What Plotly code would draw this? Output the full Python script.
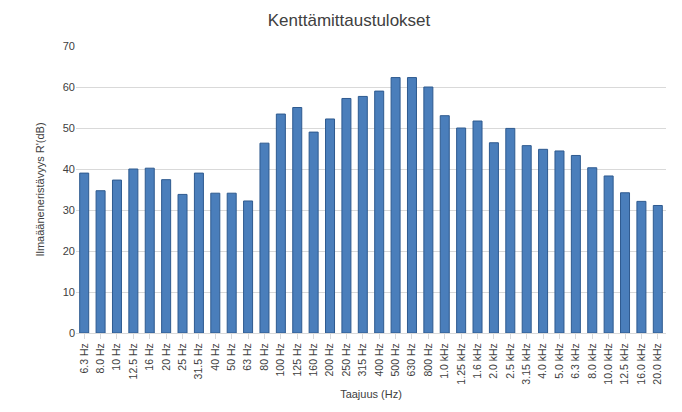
import plotly.graph_objects as go

taajuus = ['6.3 Hz', '8.0 Hz', '10 Hz', '12.5 Hz', '16 Hz', '20 Hz', '25 Hz', '31.5 Hz',
           '40 Hz', '50 Hz', '63 Hz', '80 Hz', '100 Hz', '125 Hz', '160 Hz', '200 Hz',
           '250 Hz', '315 Hz', '400 Hz', '500 Hz', '630 Hz', '800 Hz', '1.0 kHz',
           '1.25 kHz', '1.6 kHz', '2.0 kHz', '2.5 kHz', '3.15 kHz', '4.0 kHz', '5.0 kHz',
           '6.3 kHz', '8.0 kHz', '10.0 kHz', '12.5 kHz', '16.0 kHz', '20.0 kHz']
r_arvot = [39.0, 34.7, 37.3, 40.0, 40.2, 37.4, 33.8, 39.0, 34.1, 34.1, 32.2, 46.3,
           53.4, 55.0, 49.0, 52.2, 57.2, 57.7, 59.0, 62.3, 62.3, 60.0, 53.0, 50.0,
           51.7, 46.4, 49.9, 45.7, 44.8, 44.4, 43.3, 40.3, 38.3, 34.2, 32.1, 31.1]

fig = go.Figure()
fig.add_trace(go.Bar(
    x=taajuus, y=r_arvot,
    marker=dict(color='#4a7ebb', line=dict(color='#2e5a8f', width=1)),
    width=0.55,
))

fig.update_layout(
    width=682, height=412,
    title=dict(text='Kenttämittaustulokset', x=0.5, y=0.985,
               font=dict(family='Liberation Sans', size=17, color='#404040')),
    paper_bgcolor='white', plot_bgcolor='white',
    margin=dict(l=68, r=24, t=38, b=87),
    showlegend=False,
    font=dict(family='Liberation Sans', size=11, color='#404040'),
    xaxis=dict(title=dict(text='Taajuus (Hz)', font=dict(size=11), standoff=6),
               tickangle=-90, tickfont=dict(size=10.5), showline=True,
               linecolor='#d9d9d9', ticks='outside', tickcolor='#d9d9d9', ticklen=5),
    yaxis=dict(title=dict(text="Ilmaääneneristävyys R'(dB)", font=dict(size=11)),
               range=[0, 70], dtick=10, gridcolor='#d9d9d9', zeroline=False,
               tickfont=dict(size=11)),
)

fig.write_html("out.html")
